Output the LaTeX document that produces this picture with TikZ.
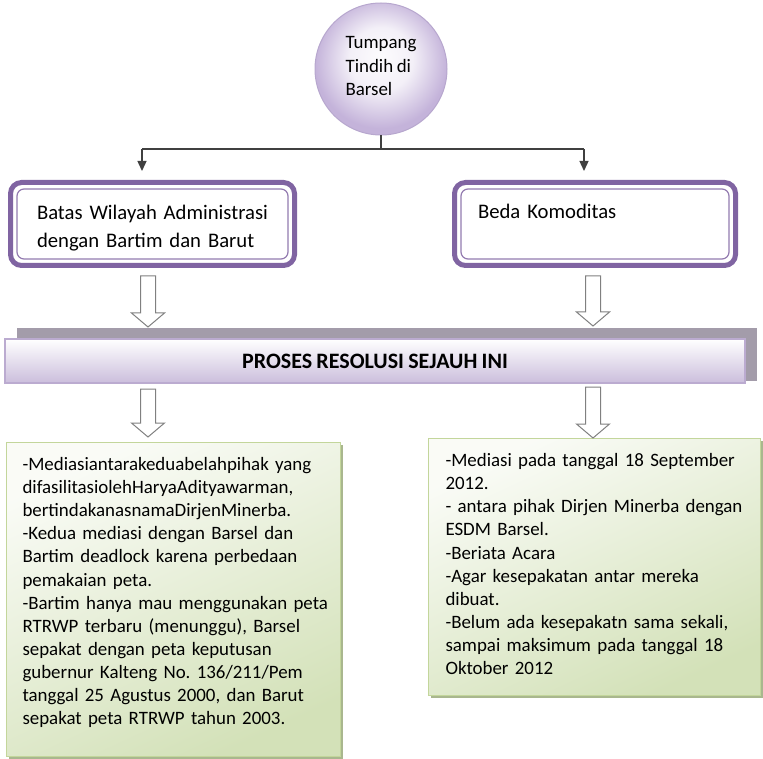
\documentclass[tikz,border=0pt]{standalone}
\usepackage{fontspec}
\setmainfont{Carlito}[WordSpace=0.85]
\usetikzlibrary{arrows.meta,shadows}
\frenchspacing

\definecolor{bpurple}{HTML}{8064A2}
\definecolor{circedge}{HTML}{B7A7CE}
\definecolor{circfill}{HTML}{C4B3DA}
\definecolor{barline}{HTML}{BBABD0}
\definecolor{barfill}{HTML}{CBBEDC}
\definecolor{bargray}{HTML}{A39CAA}
\definecolor{gline}{HTML}{C3D69B}
\definecolor{gfill}{HTML}{D3E1B8}
\definecolor{gshadow}{HTML}{A9B78E}

\pgfdeclareradialshading{orbshade}{\pgfpoint{0bp}{5bp}}{%
  color(0bp)=(white!96!circfill); color(12bp)=(white!80!circfill);
  color(25bp)=(circfill); color(50bp)=(circfill)}

% hollow block arrow: x, top y, tip y
\newcommand{\blockarrow}[3]{%
  \draw[blockarr] (#1-7.5,#2) -- (#1+7.5,#2) -- (#1+7.5,#3-14) -- (#1+16.5,#3-14)
    -- (#1,#3) -- (#1-16.5,#3-14) -- (#1-7.5,#3-14) -- cycle;}

\begin{document}
\begin{tikzpicture}[x=1pt, y=-1pt,
    conn/.style={draw=black!75, line width=1.3pt},
    tip/.style={-{Triangle[length=10pt,width=9pt]}, shorten >=9pt},
    blockarr/.style={draw=black!50, line width=1pt, fill=white},
    topic/.style={circle, draw=circedge, line width=1pt, shading=orbshade,
        minimum size=132pt, inner sep=0pt, align=left,
        font=\fontsize{18.9}{23.1}\selectfont},
    pbox/.style={draw=bpurple, line width=5pt, rounded corners=11pt, fill=white,
        minimum height=83pt, inner ysep=0pt, align=left,
        font=\fontsize{20.7}{28}\selectfont,
        path picture={\draw[bpurple!85, line width=1.2pt, rounded corners=7pt]
            ([xshift=6.5pt,yshift=-6.5pt]path picture bounding box.north west) rectangle
            ([xshift=-6.5pt,yshift=6.5pt]path picture bounding box.south east);}},
    banner/.style={draw=barline, line width=1.2pt, top color=white, bottom color=barfill,
        minimum width=740pt, minimum height=44pt, inner sep=0pt,
        font=\fontsize{22}{26}\selectfont\bfseries},
    gbox/.style={draw=gline, line width=1pt, top color=gfill!12, bottom color=gfill,
        shading angle=25, drop shadow={shadow xshift=2.5pt, shadow yshift=-2.5pt,
        fill=gshadow, opacity=1}, anchor=north west, inner ysep=0pt, align=left,
        font=\fontsize{18.9}{23.1}\selectfont}]

    \useasboundingbox (0,0) rectangle (763,759);

    % Topic
    \node[topic] (tumpang) at (381,69) {Tumpang\\Tindih di\\Barsel\rule[-6pt]{0pt}{6pt}};

    % Two causes
    \node[pbox, text width=231pt, inner xsep=26.5pt] (batas) at (152.5,224)
        {\rule{0pt}{23pt}\mbox{Batas Wilayah Administrasi}\\dengan Bartim dan Barut};
    \node[pbox, text width=234pt, inner xsep=23.5pt] (komod) at (595,224)
        {\rule{0pt}{23pt}Beda Komoditas\\\rule[-5pt]{0pt}{5pt}};

    % Fork
    \coordinate (forkL) at (142,149);
    \coordinate (forkR) at (584,149);
    \draw[conn] (tumpang.south) -- (tumpang.south |- forkL);
    \draw[conn] (forkL) -- (forkR);
    \draw[conn, tip] (forkL) -- (forkL |- batas.north);
    \draw[conn, tip] (forkR) -- (forkR |- komod.north);

    % Banner
    \fill[bargray] (17,328) rectangle (757,381);
    \node[banner] (proses) at (375,361) {PROSES RESOLUSI SEJAUH INI};

    % Results
    \node[gbox, text width=302pt, inner xsep=16pt, minimum height=314pt] (resbatas) at (6,442)
        {-Mediasiantarakeduabelahpihak yang\\
         difasilitasiolehHaryaAdityawarman,\\
         bertindakanasnamaDirjenMinerba.\\
         -Kedua mediasi dengan Barsel dan\\
         Bartim deadlock karena perbedaan\\
         pemakaian peta.\\
         \mbox{-Bartim hanya mau menggunakan peta}\\
         RTRWP terbaru (menunggu), Barsel\\
         sepakat dengan peta keputusan\\
         gubernur Kalteng No. 136/211/Pem\\
         tanggal 25 Agustus 2000, dan Barut\\
         sepakat peta RTRWP tahun 2003.\rule[-17pt]{0pt}{17pt}};
    \node[gbox, text width=298pt, inner xsep=17pt, minimum height=257pt] (reskomod) at (428,438)
        {-Mediasi pada tanggal 18 September\\
         2012.\\
         - antara pihak Dirjen Minerba dengan\\
         ESDM Barsel.\\
         -Beriata Acara\\
         -Agar kesepakatan antar mereka\\
         dibuat.\\
         -Belum ada kesepakatn sama sekali,\\
         sampai maksimum pada tanggal 18\\
         Oktober 2012\rule[-6pt]{0pt}{6pt}};

    % Block arrows
    \blockarrow{148}{276}{327}
    \blockarrow{593}{276}{326}
    \blockarrow{148}{389}{437}
    \blockarrow{593}{387}{438}
\end{tikzpicture}
\end{document}
